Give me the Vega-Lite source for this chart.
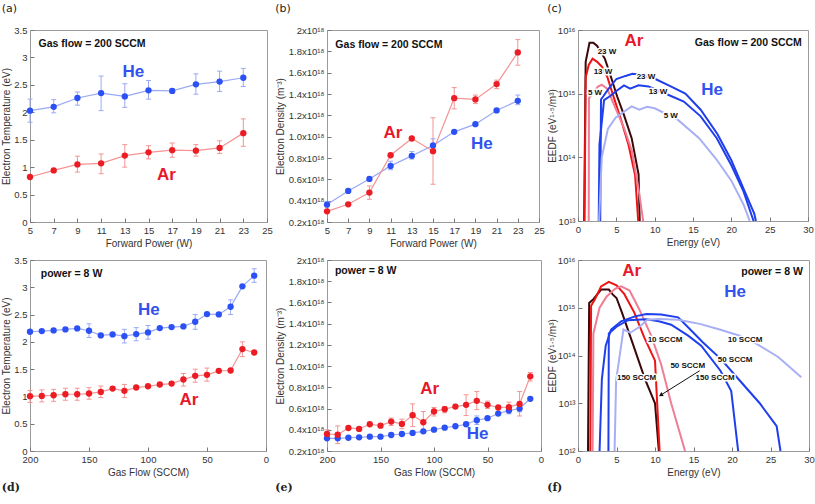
{
  "$schema": "https://vega.github.io/schema/vega-lite/v6.json",
  "background": "white",
  "padding": {"left": 1, "top": 2, "right": 0, "bottom": 2},
  "datasets": {
    "a": [
      {"power": 5, "gas": "He", "te": 2.03, "lo": 1.82, "hi": 2.24},
      {"power": 7, "gas": "He", "te": 2.10, "lo": 1.99, "hi": 2.23},
      {"power": 9, "gas": "He", "te": 2.26, "lo": 2.13, "hi": 2.37},
      {"power": 11, "gas": "He", "te": 2.35, "lo": 2.03, "hi": 2.66},
      {"power": 13, "gas": "He", "te": 2.29, "lo": 2.09, "hi": 2.52},
      {"power": 15, "gas": "He", "te": 2.40, "lo": 2.24, "hi": 2.58},
      {"power": 17, "gas": "He", "te": 2.39, "lo": 2.35, "hi": 2.43},
      {"power": 19, "gas": "He", "te": 2.51, "lo": 2.33, "hi": 2.70},
      {"power": 21, "gas": "He", "te": 2.56, "lo": 2.38, "hi": 2.75},
      {"power": 23, "gas": "He", "te": 2.63, "lo": 2.47, "hi": 2.80},
      {"power": 5, "gas": "Ar", "te": 0.82},
      {"power": 7, "gas": "Ar", "te": 0.94},
      {"power": 9, "gas": "Ar", "te": 1.05, "lo": 0.91, "hi": 1.20},
      {"power": 11, "gas": "Ar", "te": 1.07, "lo": 0.88, "hi": 1.24},
      {"power": 13, "gas": "Ar", "te": 1.21, "lo": 1.00, "hi": 1.41},
      {"power": 15, "gas": "Ar", "te": 1.27, "lo": 1.15, "hi": 1.39},
      {"power": 17, "gas": "Ar", "te": 1.31, "lo": 1.18, "hi": 1.44},
      {"power": 19, "gas": "Ar", "te": 1.30, "lo": 1.20, "hi": 1.41},
      {"power": 21, "gas": "Ar", "te": 1.35, "lo": 1.25, "hi": 1.48},
      {"power": 23, "gas": "Ar", "te": 1.62, "lo": 1.38, "hi": 1.88}
    ],
    "b": [
      {"power": 5, "gas": "He", "ne": 3.63e17, "lo": 3.4e17, "hi": 3.9e17},
      {"power": 7, "gas": "He", "ne": 4.91e17},
      {"power": 9, "gas": "He", "ne": 6.04e17},
      {"power": 11, "gas": "He", "ne": 7.26e17, "lo": 6.9e17, "hi": 7.7e17},
      {"power": 13, "gas": "He", "ne": 8.20e17, "lo": 7.9e17, "hi": 8.6e17},
      {"power": 15, "gas": "He", "ne": 9.17e17, "lo": 8.8e17, "hi": 9.8e17},
      {"power": 17, "gas": "He", "ne": 1.045e18},
      {"power": 19, "gas": "He", "ne": 1.117e18},
      {"power": 21, "gas": "He", "ne": 1.246e18},
      {"power": 23, "gas": "He", "ne": 1.336e18, "lo": 1.30e18, "hi": 1.39e18},
      {"power": 5, "gas": "Ar", "ne": 3.00e17},
      {"power": 7, "gas": "Ar", "ne": 3.66e17},
      {"power": 9, "gas": "Ar", "ne": 4.76e17, "lo": 4.13e17, "hi": 5.38e17},
      {"power": 11, "gas": "Ar", "ne": 8.26e17},
      {"power": 13, "gas": "Ar", "ne": 9.83e17},
      {"power": 15, "gas": "Ar", "ne": 8.64e17, "lo": 5.54e17, "hi": 1.177e18},
      {"power": 17, "gas": "Ar", "ne": 1.361e18, "lo": 1.26e18, "hi": 1.46e18},
      {"power": 19, "gas": "Ar", "ne": 1.349e18, "lo": 1.31e18, "hi": 1.39e18},
      {"power": 21, "gas": "Ar", "ne": 1.493e18, "lo": 1.45e18, "hi": 1.53e18},
      {"power": 23, "gas": "Ar", "ne": 1.79e18, "lo": 1.67e18, "hi": 1.91e18}
    ],
    "c": [
      {"series": "Ar 23 W", "energy": 0.8, "eedf": 1e13},
      {"series": "Ar 23 W", "energy": 1.0, "eedf": 3.16e15},
      {"series": "Ar 23 W", "energy": 1.5, "eedf": 6.31e15},
      {"series": "Ar 23 W", "energy": 2.0, "eedf": 6.31e15},
      {"series": "Ar 23 W", "energy": 2.5, "eedf": 5.62e15},
      {"series": "Ar 23 W", "energy": 3.0, "eedf": 4.47e15},
      {"series": "Ar 23 W", "energy": 3.5, "eedf": 3.55e15},
      {"series": "Ar 23 W", "energy": 4.2, "eedf": 2.0e15},
      {"series": "Ar 23 W", "energy": 5.1, "eedf": 9.1e14},
      {"series": "Ar 23 W", "energy": 6.0, "eedf": 4.6e14},
      {"series": "Ar 23 W", "energy": 7.0, "eedf": 2.0e14},
      {"series": "Ar 23 W", "energy": 7.9, "eedf": 5.4e13},
      {"series": "Ar 23 W", "energy": 8.05, "eedf": 1e13},
      {"series": "Ar 13 W", "energy": 0.85, "eedf": 1e13},
      {"series": "Ar 13 W", "energy": 1.0, "eedf": 1.8e15},
      {"series": "Ar 13 W", "energy": 1.4, "eedf": 2.82e15},
      {"series": "Ar 13 W", "energy": 1.9, "eedf": 3.55e15},
      {"series": "Ar 13 W", "energy": 2.5, "eedf": 3.16e15},
      {"series": "Ar 13 W", "energy": 3.15, "eedf": 2.63e15},
      {"series": "Ar 13 W", "energy": 3.8, "eedf": 1.86e15},
      {"series": "Ar 13 W", "energy": 4.7, "eedf": 8.5e14},
      {"series": "Ar 13 W", "energy": 5.7, "eedf": 3.6e14},
      {"series": "Ar 13 W", "energy": 6.6, "eedf": 1.55e14},
      {"series": "Ar 13 W", "energy": 7.45, "eedf": 5.2e13},
      {"series": "Ar 13 W", "energy": 7.85, "eedf": 1e13},
      {"series": "Ar 5 W", "energy": 1.4, "eedf": 1e13},
      {"series": "Ar 5 W", "energy": 1.43, "eedf": 8.5e14},
      {"series": "Ar 5 W", "energy": 2.6, "eedf": 1.29e15},
      {"series": "Ar 5 W", "energy": 3.1, "eedf": 1.38e15},
      {"series": "Ar 5 W", "energy": 3.8, "eedf": 1.2e15},
      {"series": "Ar 5 W", "energy": 4.9, "eedf": 5.9e14},
      {"series": "Ar 5 W", "energy": 6.0, "eedf": 2.9e14},
      {"series": "Ar 5 W", "energy": 7.05, "eedf": 1.23e14},
      {"series": "Ar 5 W", "energy": 7.9, "eedf": 3.2e13},
      {"series": "Ar 5 W", "energy": 8.5, "eedf": 1e13},
      {"series": "He 23 W", "energy": 2.9, "eedf": 1e13},
      {"series": "He 23 W", "energy": 3.0, "eedf": 8.1e14},
      {"series": "He 23 W", "energy": 4.0, "eedf": 1.2e15},
      {"series": "He 23 W", "energy": 5.0, "eedf": 1.7e15},
      {"series": "He 23 W", "energy": 6.2, "eedf": 1.9e15},
      {"series": "He 23 W", "energy": 7.1, "eedf": 2.05e15},
      {"series": "He 23 W", "energy": 8.0, "eedf": 2.0e15},
      {"series": "He 23 W", "energy": 10.1, "eedf": 1.7e15},
      {"series": "He 23 W", "energy": 12.1, "eedf": 1.3e15},
      {"series": "He 23 W", "energy": 14.0, "eedf": 1.0e15},
      {"series": "He 23 W", "energy": 16.0, "eedf": 5.6e14},
      {"series": "He 23 W", "energy": 18.2, "eedf": 2.3e14},
      {"series": "He 23 W", "energy": 20.0, "eedf": 9.0e13},
      {"series": "He 23 W", "energy": 21.7, "eedf": 3.0e13},
      {"series": "He 23 W", "energy": 23.0, "eedf": 1.3e13},
      {"series": "He 23 W", "energy": 23.2, "eedf": 1e13},
      {"series": "He 13 W", "energy": 2.7, "eedf": 1e13},
      {"series": "He 13 W", "energy": 2.8, "eedf": 1.6e14},
      {"series": "He 13 W", "energy": 3.4, "eedf": 7.9e14},
      {"series": "He 13 W", "energy": 4.2, "eedf": 9.2e14},
      {"series": "He 13 W", "energy": 5.0, "eedf": 1.1e15},
      {"series": "He 13 W", "energy": 6.0, "eedf": 1.35e15},
      {"series": "He 13 W", "energy": 6.8, "eedf": 1.2e15},
      {"series": "He 13 W", "energy": 7.9, "eedf": 1.35e15},
      {"series": "He 13 W", "energy": 9.2, "eedf": 1.3e15},
      {"series": "He 13 W", "energy": 11.6, "eedf": 9.8e14},
      {"series": "He 13 W", "energy": 13.8, "eedf": 7.5e14},
      {"series": "He 13 W", "energy": 16.0, "eedf": 4.4e14},
      {"series": "He 13 W", "energy": 18.1, "eedf": 2.0e14},
      {"series": "He 13 W", "energy": 20.0, "eedf": 7.5e13},
      {"series": "He 13 W", "energy": 21.6, "eedf": 2.9e13},
      {"series": "He 13 W", "energy": 22.9, "eedf": 1e13},
      {"series": "He 5 W", "energy": 2.75, "eedf": 1e13},
      {"series": "He 5 W", "energy": 3.1, "eedf": 1.0e14},
      {"series": "He 5 W", "energy": 3.9, "eedf": 2.8e14},
      {"series": "He 5 W", "energy": 4.9, "eedf": 4.2e14},
      {"series": "He 5 W", "energy": 6.0, "eedf": 5.2e14},
      {"series": "He 5 W", "energy": 7.0, "eedf": 6.3e14},
      {"series": "He 5 W", "energy": 8.0, "eedf": 5.6e14},
      {"series": "He 5 W", "energy": 9.0, "eedf": 6.2e14},
      {"series": "He 5 W", "energy": 10.0, "eedf": 5.9e14},
      {"series": "He 5 W", "energy": 13.0, "eedf": 3.9e14},
      {"series": "He 5 W", "energy": 15.8, "eedf": 2.0e14},
      {"series": "He 5 W", "energy": 18.0, "eedf": 9.5e13},
      {"series": "He 5 W", "energy": 20.0, "eedf": 4.3e13},
      {"series": "He 5 W", "energy": 21.6, "eedf": 1.8e13},
      {"series": "He 5 W", "energy": 22.4, "eedf": 1e13}
    ],
    "d": [
      {"flow": 200, "gas": "He", "te": 2.185},
      {"flow": 190, "gas": "He", "te": 2.197},
      {"flow": 180, "gas": "He", "te": 2.209},
      {"flow": 170, "gas": "He", "te": 2.228},
      {"flow": 160, "gas": "He", "te": 2.246},
      {"flow": 150, "gas": "He", "te": 2.203, "lo": 2.08, "hi": 2.33},
      {"flow": 140, "gas": "He", "te": 2.118},
      {"flow": 130, "gas": "He", "te": 2.136},
      {"flow": 120, "gas": "He", "te": 2.105, "lo": 1.98, "hi": 2.23},
      {"flow": 110, "gas": "He", "te": 2.142, "lo": 2.02, "hi": 2.26},
      {"flow": 100, "gas": "He", "te": 2.173, "lo": 2.05, "hi": 2.30},
      {"flow": 90, "gas": "He", "te": 2.252},
      {"flow": 80, "gas": "He", "te": 2.271},
      {"flow": 70, "gas": "He", "te": 2.283},
      {"flow": 60, "gas": "He", "te": 2.368, "lo": 2.23, "hi": 2.50},
      {"flow": 50, "gas": "He", "te": 2.509},
      {"flow": 40, "gas": "He", "te": 2.503},
      {"flow": 30, "gas": "He", "te": 2.644, "lo": 2.50, "hi": 2.77},
      {"flow": 20, "gas": "He", "te": 3.017},
      {"flow": 10, "gas": "He", "te": 3.213, "lo": 3.09, "hi": 3.34},
      {"flow": 200, "gas": "Ar", "te": 1.004, "lo": 0.89, "hi": 1.11},
      {"flow": 190, "gas": "Ar", "te": 1.010, "lo": 0.90, "hi": 1.12},
      {"flow": 180, "gas": "Ar", "te": 1.022, "lo": 0.91, "hi": 1.13},
      {"flow": 170, "gas": "Ar", "te": 1.040, "lo": 0.93, "hi": 1.15},
      {"flow": 160, "gas": "Ar", "te": 1.040, "lo": 0.93, "hi": 1.15},
      {"flow": 150, "gas": "Ar", "te": 1.053, "lo": 0.95, "hi": 1.16},
      {"flow": 140, "gas": "Ar", "te": 1.083, "lo": 0.98, "hi": 1.19},
      {"flow": 130, "gas": "Ar", "te": 1.144},
      {"flow": 120, "gas": "Ar", "te": 1.102, "lo": 0.98, "hi": 1.22},
      {"flow": 110, "gas": "Ar", "te": 1.163},
      {"flow": 100, "gas": "Ar", "te": 1.187},
      {"flow": 90, "gas": "Ar", "te": 1.218},
      {"flow": 80, "gas": "Ar", "te": 1.236},
      {"flow": 70, "gas": "Ar", "te": 1.310, "lo": 1.19, "hi": 1.42},
      {"flow": 60, "gas": "Ar", "te": 1.377, "lo": 1.26, "hi": 1.50},
      {"flow": 50, "gas": "Ar", "te": 1.395, "lo": 1.28, "hi": 1.52},
      {"flow": 40, "gas": "Ar", "te": 1.469},
      {"flow": 30, "gas": "Ar", "te": 1.475},
      {"flow": 20, "gas": "Ar", "te": 1.867, "lo": 1.73, "hi": 2.0},
      {"flow": 10, "gas": "Ar", "te": 1.805}
    ],
    "e": [
      {"flow": 200, "gas": "He", "ne": 3.19e17},
      {"flow": 190, "gas": "He", "ne": 3.19e17},
      {"flow": 180, "gas": "He", "ne": 3.25e17},
      {"flow": 170, "gas": "He", "ne": 3.29e17},
      {"flow": 160, "gas": "He", "ne": 3.35e17},
      {"flow": 150, "gas": "He", "ne": 3.35e17},
      {"flow": 140, "gas": "He", "ne": 3.51e17},
      {"flow": 130, "gas": "He", "ne": 3.60e17},
      {"flow": 120, "gas": "He", "ne": 3.70e17},
      {"flow": 110, "gas": "He", "ne": 3.85e17},
      {"flow": 100, "gas": "He", "ne": 4.01e17},
      {"flow": 90, "gas": "He", "ne": 4.20e17},
      {"flow": 80, "gas": "He", "ne": 4.33e17},
      {"flow": 70, "gas": "He", "ne": 4.52e17},
      {"flow": 60, "gas": "He", "ne": 4.90e17, "lo": 4.5e17, "hi": 5.3e17},
      {"flow": 50, "gas": "He", "ne": 5.09e17},
      {"flow": 40, "gas": "He", "ne": 5.53e17},
      {"flow": 30, "gas": "He", "ne": 5.81e17, "lo": 5.5e17, "hi": 6.1e17},
      {"flow": 20, "gas": "He", "ne": 6.00e17, "lo": 5.7e17, "hi": 6.3e17},
      {"flow": 10, "gas": "He", "ne": 6.92e17},
      {"flow": 200, "gas": "Ar", "ne": 3.60e17, "lo": 3.3e17, "hi": 4.0e17},
      {"flow": 190, "gas": "Ar", "ne": 3.54e17, "lo": 2.7e17, "hi": 4.36e17},
      {"flow": 180, "gas": "Ar", "ne": 4.17e17},
      {"flow": 170, "gas": "Ar", "ne": 4.08e17},
      {"flow": 160, "gas": "Ar", "ne": 4.52e17},
      {"flow": 150, "gas": "Ar", "ne": 4.39e17},
      {"flow": 140, "gas": "Ar", "ne": 4.77e17, "lo": 4.4e17, "hi": 5.1e17},
      {"flow": 130, "gas": "Ar", "ne": 4.55e17, "lo": 4.1e17, "hi": 5.0e17},
      {"flow": 120, "gas": "Ar", "ne": 5.37e17, "lo": 4.3e17, "hi": 6.44e17},
      {"flow": 110, "gas": "Ar", "ne": 4.71e17, "lo": 3.67e17, "hi": 5.72e17},
      {"flow": 100, "gas": "Ar", "ne": 5.72e17, "lo": 5.3e17, "hi": 6.1e17},
      {"flow": 90, "gas": "Ar", "ne": 5.94e17, "lo": 5.6e17, "hi": 6.2e17},
      {"flow": 80, "gas": "Ar", "ne": 6.19e17, "lo": 6.0e17, "hi": 6.4e17},
      {"flow": 70, "gas": "Ar", "ne": 6.35e17, "lo": 5.34e17, "hi": 7.3e17},
      {"flow": 60, "gas": "Ar", "ne": 6.73e17, "lo": 5.9e17, "hi": 7.6e17},
      {"flow": 50, "gas": "Ar", "ne": 6.35e17, "lo": 6.0e17, "hi": 6.7e17},
      {"flow": 40, "gas": "Ar", "ne": 6.10e17},
      {"flow": 30, "gas": "Ar", "ne": 6.13e17, "lo": 5.7e17, "hi": 6.6e17},
      {"flow": 20, "gas": "Ar", "ne": 6.44e17, "lo": 5.3e17, "hi": 7.6e17},
      {"flow": 10, "gas": "Ar", "ne": 9.04e17, "lo": 8.6e17, "hi": 9.4e17}
    ],
    "f": [
      {"series": "Ar 150 SCCM", "energy": 1.3, "eedf": 1e12},
      {"series": "Ar 150 SCCM", "energy": 1.45, "eedf": 1.26e15},
      {"series": "Ar 150 SCCM", "energy": 2.0, "eedf": 1.51e15},
      {"series": "Ar 150 SCCM", "energy": 3.0, "eedf": 2.4e15},
      {"series": "Ar 150 SCCM", "energy": 4.0, "eedf": 2.4e15},
      {"series": "Ar 150 SCCM", "energy": 4.5, "eedf": 1.9e15},
      {"series": "Ar 150 SCCM", "energy": 5.0, "eedf": 1.6e15},
      {"series": "Ar 150 SCCM", "energy": 5.7, "eedf": 8.0e14},
      {"series": "Ar 150 SCCM", "energy": 7.0, "eedf": 2.0e14},
      {"series": "Ar 150 SCCM", "energy": 8.7, "eedf": 3.2e13},
      {"series": "Ar 150 SCCM", "energy": 10.0, "eedf": 1.0e13},
      {"series": "Ar 150 SCCM", "energy": 10.5, "eedf": 1e12},
      {"series": "Ar 50 SCCM", "energy": 1.6, "eedf": 1e12},
      {"series": "Ar 50 SCCM", "energy": 1.7, "eedf": 1.1e15},
      {"series": "Ar 50 SCCM", "energy": 2.2, "eedf": 1.51e15},
      {"series": "Ar 50 SCCM", "energy": 3.0, "eedf": 2.8e15},
      {"series": "Ar 50 SCCM", "energy": 4.0, "eedf": 3.5e15},
      {"series": "Ar 50 SCCM", "energy": 5.0, "eedf": 2.95e15},
      {"series": "Ar 50 SCCM", "energy": 6.0, "eedf": 1.95e15},
      {"series": "Ar 50 SCCM", "energy": 7.3, "eedf": 8.0e14},
      {"series": "Ar 50 SCCM", "energy": 8.6, "eedf": 2.4e14},
      {"series": "Ar 50 SCCM", "energy": 10.0, "eedf": 7.8e13},
      {"series": "Ar 50 SCCM", "energy": 10.6, "eedf": 1e12},
      {"series": "Ar 10 SCCM", "energy": 1.9, "eedf": 1e12},
      {"series": "Ar 10 SCCM", "energy": 2.0, "eedf": 2.9e14},
      {"series": "Ar 10 SCCM", "energy": 2.8, "eedf": 1.0e15},
      {"series": "Ar 10 SCCM", "energy": 3.7, "eedf": 1.7e15},
      {"series": "Ar 10 SCCM", "energy": 4.8, "eedf": 2.5e15},
      {"series": "Ar 10 SCCM", "energy": 5.6, "eedf": 2.8e15},
      {"series": "Ar 10 SCCM", "energy": 6.7, "eedf": 2.3e15},
      {"series": "Ar 10 SCCM", "energy": 8.0, "eedf": 9.0e14},
      {"series": "Ar 10 SCCM", "energy": 9.5, "eedf": 2.6e14},
      {"series": "Ar 10 SCCM", "energy": 10.8, "eedf": 6.5e13},
      {"series": "Ar 10 SCCM", "energy": 12.1, "eedf": 1.0e13},
      {"series": "Ar 10 SCCM", "energy": 13.9, "eedf": 1e12},
      {"series": "He 150 SCCM", "energy": 3.95, "eedf": 1e12},
      {"series": "He 150 SCCM", "energy": 4.0, "eedf": 2.9e14},
      {"series": "He 150 SCCM", "energy": 5.0, "eedf": 4.0e14},
      {"series": "He 150 SCCM", "energy": 6.5, "eedf": 5.5e14},
      {"series": "He 150 SCCM", "energy": 8.9, "eedf": 5.75e14},
      {"series": "He 150 SCCM", "energy": 10.5, "eedf": 5.2e14},
      {"series": "He 150 SCCM", "energy": 12.1, "eedf": 4.4e14},
      {"series": "He 150 SCCM", "energy": 14.3, "eedf": 2.6e14},
      {"series": "He 150 SCCM", "energy": 16.0, "eedf": 1.6e14},
      {"series": "He 150 SCCM", "energy": 18.5, "eedf": 4.8e13},
      {"series": "He 150 SCCM", "energy": 19.9, "eedf": 1.8e13},
      {"series": "He 150 SCCM", "energy": 20.8, "eedf": 1e12},
      {"series": "He 50 SCCM", "energy": 2.8, "eedf": 1e12},
      {"series": "He 50 SCCM", "energy": 3.1, "eedf": 3.2e13},
      {"series": "He 50 SCCM", "energy": 3.6, "eedf": 1.6e14},
      {"series": "He 50 SCCM", "energy": 4.3, "eedf": 3.5e14},
      {"series": "He 50 SCCM", "energy": 5.6, "eedf": 5.2e14},
      {"series": "He 50 SCCM", "energy": 7.4, "eedf": 6.6e14},
      {"series": "He 50 SCCM", "energy": 8.9, "eedf": 7.4e14},
      {"series": "He 50 SCCM", "energy": 10.8, "eedf": 7.2e14},
      {"series": "He 50 SCCM", "energy": 13.0, "eedf": 6.3e14},
      {"series": "He 50 SCCM", "energy": 14.1, "eedf": 4.2e14},
      {"series": "He 50 SCCM", "energy": 16.2, "eedf": 1.9e14},
      {"series": "He 50 SCCM", "energy": 18.6, "eedf": 8.3e13},
      {"series": "He 50 SCCM", "energy": 21.0, "eedf": 3.0e13},
      {"series": "He 50 SCCM", "energy": 23.6, "eedf": 1.0e13},
      {"series": "He 50 SCCM", "energy": 25.8, "eedf": 3.3e12},
      {"series": "He 50 SCCM", "energy": 26.3, "eedf": 1e12},
      {"series": "He 10 SCCM", "energy": 4.75, "eedf": 1e12},
      {"series": "He 10 SCCM", "energy": 4.95, "eedf": 3.0e13},
      {"series": "He 10 SCCM", "energy": 5.9, "eedf": 3.5e14},
      {"series": "He 10 SCCM", "energy": 6.8, "eedf": 3.0e14},
      {"series": "He 10 SCCM", "energy": 8.0, "eedf": 4.0e14},
      {"series": "He 10 SCCM", "energy": 9.0, "eedf": 5.6e14},
      {"series": "He 10 SCCM", "energy": 10.5, "eedf": 5.8e14},
      {"series": "He 10 SCCM", "energy": 13.0, "eedf": 5.6e14},
      {"series": "He 10 SCCM", "energy": 15.8, "eedf": 4.6e14},
      {"series": "He 10 SCCM", "energy": 18.4, "eedf": 3.5e14},
      {"series": "He 10 SCCM", "energy": 21.0, "eedf": 2.6e14},
      {"series": "He 10 SCCM", "energy": 23.2, "eedf": 1.75e14},
      {"series": "He 10 SCCM", "energy": 26.0, "eedf": 9.3e13},
      {"series": "He 10 SCCM", "energy": 29.0, "eedf": 3.5e13}
    ],
    "labels": [
      {"panel": "a", "kind": "note", "text": "Gas flow = 200 SCCM", "x": 5.72, "y": 3.25},
      {"panel": "a", "kind": "gas", "text": "He", "x": 13.73, "y": 2.74},
      {"panel": "a", "kind": "gas", "text": "Ar", "x": 16.52, "y": 0.85},
      {"panel": "b", "kind": "note", "text": "Gas flow = 200 SCCM", "x": 5.79, "y": 1.864e18},
      {"panel": "b", "kind": "gas", "text": "Ar", "x": 11.23, "y": 1.036e18},
      {"panel": "b", "kind": "gas", "text": "He", "x": 19.6, "y": 9.33e17},
      {"panel": "c", "kind": "note", "text": "Gas flow = 200 SCCM", "x": 29.2, "y": 6.3e15},
      {"panel": "c", "kind": "gas", "text": "Ar", "x": 7.3, "y": 6.6e15},
      {"panel": "c", "kind": "gas", "text": "He", "x": 17.5, "y": 1.15e15},
      {"panel": "c", "kind": "curve", "text": "23 W", "x": 3.78, "y": 4.5e15},
      {"panel": "c", "kind": "curve", "text": "13 W", "x": 3.26, "y": 2.2e15},
      {"panel": "c", "kind": "curve", "text": "5 W", "x": 2.22, "y": 1.02e15},
      {"panel": "c", "kind": "curve", "text": "23 W", "x": 8.87, "y": 1.8e15},
      {"panel": "c", "kind": "curve", "text": "13 W", "x": 10.43, "y": 1.07e15},
      {"panel": "c", "kind": "curve", "text": "5 W", "x": 12.1, "y": 4.5e14},
      {"panel": "d", "kind": "note", "text": "power = 8 W", "x": 190.9, "y": 3.24},
      {"panel": "d", "kind": "gas", "text": "He", "x": 99.2, "y": 2.58},
      {"panel": "d", "kind": "gas", "text": "Ar", "x": 65.3, "y": 0.93},
      {"panel": "e", "kind": "note", "text": "power = 8 W", "x": 192.6, "y": 1.894e18},
      {"panel": "e", "kind": "gas", "text": "Ar", "x": 104, "y": 7.89e17},
      {"panel": "e", "kind": "gas", "text": "He", "x": 59.3, "y": 3.56e17},
      {"panel": "f", "kind": "note", "text": "power = 8 W", "x": 29.2, "y": 5.6e15},
      {"panel": "f", "kind": "gas", "text": "Ar", "x": 6.98, "y": 5.9e15},
      {"panel": "f", "kind": "gas", "text": "He", "x": 20.4, "y": 2.15e15},
      {"panel": "f", "kind": "curve", "text": "10 SCCM", "x": 11.3, "y": 2.15e14},
      {"panel": "f", "kind": "curve", "text": "50 SCCM", "x": 14.25, "y": 6.0e13},
      {"panel": "f", "kind": "curve", "text": "150 SCCM", "x": 7.6, "y": 3.4e13},
      {"panel": "f", "kind": "curve", "text": "10 SCCM", "x": 21.7, "y": 2.15e14},
      {"panel": "f", "kind": "curve", "text": "50 SCCM", "x": 20.4, "y": 8.1e13},
      {"panel": "f", "kind": "curve", "text": "150 SCCM", "x": 17.8, "y": 3.4e13}
    ],
    "arrow": [
      {"x": 15.8, "y": 4.8e13, "x2": 10.75, "y2": 1.48e13}
    ]
  },
  "concat": [
    {
      "width": 237, "height": 192,
      "title": {"text": "(a)", "anchor": "start", "frame": "bounds", "offset": 11, "fontSize": 11, "fontWeight": "normal", "font": "DejaVu Sans", "color": "#222"},
      "resolve": {"scale": {"color": "independent"}},
      "layer": [
        {"data": {"name": "a"}, "mark": {"type": "line", "strokeWidth": 1.2},
          "encoding": {
            "x": {"field": "power", "type": "quantitative", "scale": {"domain": [5, 25], "padding": 0, "nice": false, "zero": false}, "axis": {"values": [5, 7, 9, 11, 13, 15, 17, 19, 21, 23, 25], "tickCount": 30, "format": "d", "title": "Forward Power (W)", "labelOverlap": false}},
            "y": {"field": "te", "type": "quantitative", "scale": {"domain": [0, 3.5], "padding": 0, "nice": false}, "axis": {"values": [0, 0.5, 1, 1.5, 2, 2.5, 3, 3.5], "tickCount": 30, "format": ".1~f", "title": "Electron Temperature (eV)", "titlePadding": 2, "labelOverlap": false}},
            "color": {"field": "gas", "type": "nominal", "scale": {"domain": ["He", "Ar"], "range": ["#9aa9f6", "#f49494"]}, "legend": null}}},
        {"data": {"name": "a"}, "transform": [{"filter": "isValid(datum.lo)"}], "mark": {"type": "rule", "strokeWidth": 1},
          "encoding": {
            "x": {"field": "power", "type": "quantitative", "title": "Forward Power (W)"},
            "y": {"field": "lo", "type": "quantitative", "title": "Electron Temperature (eV)"}, "y2": {"field": "hi"},
            "color": {"field": "gas", "type": "nominal", "scale": {"domain": ["He", "Ar"], "range": ["#9aa9f6", "#f49494"]}, "legend": null}}},
        {"data": {"name": "a"}, "transform": [{"filter": "isValid(datum.lo)"}, {"fold": ["lo", "hi"], "as": ["end", "bound"]}], "mark": {"type": "point", "shape": "stroke", "filled": false, "size": 25, "strokeWidth": 1, "opacity": 1},
          "encoding": {
            "x": {"field": "power", "type": "quantitative", "title": "Forward Power (W)"},
            "y": {"field": "bound", "type": "quantitative", "title": "Electron Temperature (eV)"},
            "color": {"field": "gas", "type": "nominal", "scale": {"domain": ["He", "Ar"], "range": ["#9aa9f6", "#f49494"]}, "legend": null}}},
        {"data": {"name": "a"}, "mark": {"type": "point", "filled": true, "size": 40, "opacity": 1},
          "encoding": {
            "x": {"field": "power", "type": "quantitative", "title": "Forward Power (W)"},
            "y": {"field": "te", "type": "quantitative", "title": "Electron Temperature (eV)"},
            "color": {"field": "gas", "type": "nominal", "scale": {"domain": ["He", "Ar"], "range": ["#2b50f3", "#ec1c24"]}, "legend": null}}},
        {"data": {"name": "labels"}, "transform": [{"filter": "datum.panel == 'a' && datum.kind == 'gas'"}], "mark": {"type": "text", "fontSize": 17, "fontWeight": "bold"},
          "encoding": {
            "x": {"field": "x", "type": "quantitative", "title": "Forward Power (W)"}, "y": {"field": "y", "type": "quantitative", "title": "Electron Temperature (eV)"}, "text": {"field": "text"},
            "color": {"field": "text", "type": "nominal", "scale": {"domain": ["He", "Ar"], "range": ["#3152ee", "#e8182a"]}, "legend": null}}},
        {"data": {"name": "labels"}, "transform": [{"filter": "datum.panel == 'a' && datum.kind == 'note'"}], "mark": {"type": "text", "fontSize": 10.5, "fontWeight": "bold", "align": "left", "color": "#111"},
          "encoding": {"x": {"field": "x", "type": "quantitative", "title": "Forward Power (W)"}, "y": {"field": "y", "type": "quantitative", "title": "Electron Temperature (eV)"}, "text": {"field": "text"}}}
      ]
    },
    {
      "width": 212, "height": 192,
      "title": {"text": "(b)", "anchor": "start", "frame": "bounds", "offset": 11, "fontSize": 11, "fontWeight": "normal", "font": "DejaVu Sans", "color": "#222"},
      "resolve": {"scale": {"color": "independent"}},
      "layer": [
        {"data": {"name": "b"}, "mark": {"type": "line", "strokeWidth": 1.2},
          "encoding": {
            "x": {"field": "power", "type": "quantitative", "scale": {"domain": [5, 25], "padding": 0, "nice": false, "zero": false}, "axis": {"values": [5, 7, 9, 11, 13, 15, 17, 19, 21, 23, 25], "tickCount": 30, "format": "d", "title": "Forward Power (W)", "labelOverlap": false}},
            "y": {"field": "ne", "type": "quantitative", "scale": {"domain": [2e17, 2e18], "padding": 0, "nice": false, "zero": false}, "axis": {"values": [2e17, 4e17, 6e17, 8e17, 1e18, 1.2e18, 1.4e18, 1.6e18, 1.8e18, 2e18], "tickCount": 30, "title": "Electron Density (m⁻³)", "titlePadding": 3, "labelOverlap": false, "labelExpr": "datum.value >= 1.99e18 ? '2x10¹⁸' : format(datum.value / 1e18, '.1f') + 'x10¹⁸'"}},
            "color": {"field": "gas", "type": "nominal", "scale": {"domain": ["He", "Ar"], "range": ["#9aa9f6", "#f49494"]}, "legend": null}}},
        {"data": {"name": "b"}, "transform": [{"filter": "isValid(datum.lo)"}], "mark": {"type": "rule", "strokeWidth": 1},
          "encoding": {
            "x": {"field": "power", "type": "quantitative", "title": "Forward Power (W)"},
            "y": {"field": "lo", "type": "quantitative", "title": "Electron Density (m⁻³)"}, "y2": {"field": "hi"},
            "color": {"field": "gas", "type": "nominal", "scale": {"domain": ["He", "Ar"], "range": ["#9aa9f6", "#f49494"]}, "legend": null}}},
        {"data": {"name": "b"}, "transform": [{"filter": "isValid(datum.lo)"}, {"fold": ["lo", "hi"], "as": ["end", "bound"]}], "mark": {"type": "point", "shape": "stroke", "filled": false, "size": 25, "strokeWidth": 1, "opacity": 1},
          "encoding": {
            "x": {"field": "power", "type": "quantitative", "title": "Forward Power (W)"},
            "y": {"field": "bound", "type": "quantitative", "title": "Electron Density (m⁻³)"},
            "color": {"field": "gas", "type": "nominal", "scale": {"domain": ["He", "Ar"], "range": ["#9aa9f6", "#f49494"]}, "legend": null}}},
        {"data": {"name": "b"}, "mark": {"type": "point", "filled": true, "size": 40, "opacity": 1},
          "encoding": {
            "x": {"field": "power", "type": "quantitative", "title": "Forward Power (W)"},
            "y": {"field": "ne", "type": "quantitative", "title": "Electron Density (m⁻³)"},
            "color": {"field": "gas", "type": "nominal", "scale": {"domain": ["He", "Ar"], "range": ["#2b50f3", "#ec1c24"]}, "legend": null}}},
        {"data": {"name": "labels"}, "transform": [{"filter": "datum.panel == 'b' && datum.kind == 'gas'"}], "mark": {"type": "text", "fontSize": 17, "fontWeight": "bold"},
          "encoding": {
            "x": {"field": "x", "type": "quantitative", "title": "Forward Power (W)"}, "y": {"field": "y", "type": "quantitative", "title": "Electron Density (m⁻³)"}, "text": {"field": "text"},
            "color": {"field": "text", "type": "nominal", "scale": {"domain": ["He", "Ar"], "range": ["#3152ee", "#e8182a"]}, "legend": null}}},
        {"data": {"name": "labels"}, "transform": [{"filter": "datum.panel == 'b' && datum.kind == 'note'"}], "mark": {"type": "text", "fontSize": 10.5, "fontWeight": "bold", "align": "left", "color": "#111"},
          "encoding": {"x": {"field": "x", "type": "quantitative", "title": "Forward Power (W)"}, "y": {"field": "y", "type": "quantitative", "title": "Electron Density (m⁻³)"}, "text": {"field": "text"}}}
      ]
    },
    {
      "width": 230, "height": 191,
      "title": {"text": "(c)", "anchor": "start", "frame": "bounds", "offset": 11, "fontSize": 11, "fontWeight": "normal", "font": "DejaVu Sans", "color": "#222"},
      "resolve": {"scale": {"color": "independent"}},
      "layer": [
        {"data": {"name": "c"}, "mark": {"type": "line", "strokeWidth": 2},
          "encoding": {
            "x": {"field": "energy", "type": "quantitative", "scale": {"domain": [0, 30], "nice": false}, "axis": {"values": [0, 5, 10, 15, 20, 25, 30], "tickCount": 30, "format": "d", "title": "Energy (eV)", "labelOverlap": false}},
            "y": {"field": "eedf", "type": "quantitative", "scale": {"type": "log", "domain": [1e13, 1e16], "nice": false}, "axis": {"values": [1e13, 1e14, 1e15, 1e16], "tickCount": 30, "title": "EEDF (eV¹·⁵/m³)", "titlePadding": 0, "labelOverlap": false, "labelExpr": "datum.value >= 9e15 ? '10¹⁶' : datum.value >= 9e14 ? '10¹⁵' : datum.value >= 9e13 ? '10¹⁴' : '10¹³'"}},
            "color": {"field": "series", "type": "nominal", "scale": {"domain": ["Ar 23 W", "Ar 13 W", "Ar 5 W", "He 23 W", "He 13 W", "He 5 W"], "range": ["#3a0808", "#ee1414", "#f07c95", "#1f3fec", "#1f3fec", "#a8b0f3"]}, "legend": null}}},
        {"data": {"name": "labels"}, "transform": [{"filter": "datum.panel == 'c' && datum.kind == 'curve'"}], "mark": {"type": "text", "fontSize": 8, "fontWeight": "bold", "stroke": "white", "strokeWidth": 3, "strokeJoin": "round", "color": "white"},
          "encoding": {"x": {"field": "x", "type": "quantitative", "title": "Energy (eV)"}, "y": {"field": "y", "type": "quantitative", "title": "EEDF (eV¹·⁵/m³)"}, "text": {"field": "text"}}},
        {"data": {"name": "labels"}, "transform": [{"filter": "datum.panel == 'c' && datum.kind == 'curve'"}], "mark": {"type": "text", "fontSize": 8, "fontWeight": "bold", "color": "#111"},
          "encoding": {"x": {"field": "x", "type": "quantitative", "title": "Energy (eV)"}, "y": {"field": "y", "type": "quantitative", "title": "EEDF (eV¹·⁵/m³)"}, "text": {"field": "text"}}},
        {"data": {"name": "labels"}, "transform": [{"filter": "datum.panel == 'c' && datum.kind == 'gas'"}], "mark": {"type": "text", "fontSize": 17, "fontWeight": "bold"},
          "encoding": {
            "x": {"field": "x", "type": "quantitative", "title": "Energy (eV)"}, "y": {"field": "y", "type": "quantitative", "title": "EEDF (eV¹·⁵/m³)"}, "text": {"field": "text"},
            "color": {"field": "text", "type": "nominal", "scale": {"domain": ["He", "Ar"], "range": ["#3152ee", "#e8182a"]}, "legend": null}}},
        {"data": {"name": "labels"}, "transform": [{"filter": "datum.panel == 'c' && datum.kind == 'note'"}], "mark": {"type": "text", "fontSize": 10.5, "fontWeight": "bold", "align": "right", "color": "#111"},
          "encoding": {"x": {"field": "x", "type": "quantitative", "title": "Energy (eV)"}, "y": {"field": "y", "type": "quantitative", "title": "EEDF (eV¹·⁵/m³)"}, "text": {"field": "text"}}}
      ]
    },
    {
      "width": 236, "height": 191,
      "title": {"text": "(d)", "orient": "bottom", "anchor": "start", "frame": "bounds", "offset": 4, "fontSize": 11, "fontWeight": "bold", "font": "DejaVu Serif", "color": "#222"},
      "resolve": {"scale": {"color": "independent"}},
      "layer": [
        {"data": {"name": "d"}, "mark": {"type": "line", "strokeWidth": 1.2},
          "encoding": {
            "x": {"field": "flow", "type": "quantitative", "scale": {"domain": [0, 200], "reverse": true, "padding": 0, "nice": false}, "axis": {"values": [0, 50, 100, 150, 200], "tickCount": 30, "format": "d", "title": "Gas Flow (SCCM)", "labelOverlap": false}},
            "y": {"field": "te", "type": "quantitative", "scale": {"domain": [0, 3.5], "padding": 0, "nice": false}, "axis": {"values": [0, 0.5, 1, 1.5, 2, 2.5, 3, 3.5], "tickCount": 30, "format": ".1~f", "title": "Electron Temperature (eV)", "titlePadding": 2, "labelOverlap": false}},
            "color": {"field": "gas", "type": "nominal", "scale": {"domain": ["He", "Ar"], "range": ["#9aa9f6", "#f49494"]}, "legend": null}}},
        {"data": {"name": "d"}, "transform": [{"filter": "isValid(datum.lo)"}], "mark": {"type": "rule", "strokeWidth": 1},
          "encoding": {
            "x": {"field": "flow", "type": "quantitative", "title": "Gas Flow (SCCM)"},
            "y": {"field": "lo", "type": "quantitative", "title": "Electron Temperature (eV)"}, "y2": {"field": "hi"},
            "color": {"field": "gas", "type": "nominal", "scale": {"domain": ["He", "Ar"], "range": ["#9aa9f6", "#f49494"]}, "legend": null}}},
        {"data": {"name": "d"}, "transform": [{"filter": "isValid(datum.lo)"}, {"fold": ["lo", "hi"], "as": ["end", "bound"]}], "mark": {"type": "point", "shape": "stroke", "filled": false, "size": 25, "strokeWidth": 1, "opacity": 1},
          "encoding": {
            "x": {"field": "flow", "type": "quantitative", "title": "Gas Flow (SCCM)"},
            "y": {"field": "bound", "type": "quantitative", "title": "Electron Temperature (eV)"},
            "color": {"field": "gas", "type": "nominal", "scale": {"domain": ["He", "Ar"], "range": ["#9aa9f6", "#f49494"]}, "legend": null}}},
        {"data": {"name": "d"}, "mark": {"type": "point", "filled": true, "size": 40, "opacity": 1},
          "encoding": {
            "x": {"field": "flow", "type": "quantitative", "title": "Gas Flow (SCCM)"},
            "y": {"field": "te", "type": "quantitative", "title": "Electron Temperature (eV)"},
            "color": {"field": "gas", "type": "nominal", "scale": {"domain": ["He", "Ar"], "range": ["#2b50f3", "#ec1c24"]}, "legend": null}}},
        {"data": {"name": "labels"}, "transform": [{"filter": "datum.panel == 'd' && datum.kind == 'gas'"}], "mark": {"type": "text", "fontSize": 17, "fontWeight": "bold"},
          "encoding": {
            "x": {"field": "x", "type": "quantitative", "title": "Gas Flow (SCCM)"}, "y": {"field": "y", "type": "quantitative", "title": "Electron Temperature (eV)"}, "text": {"field": "text"},
            "color": {"field": "text", "type": "nominal", "scale": {"domain": ["He", "Ar"], "range": ["#3152ee", "#e8182a"]}, "legend": null}}},
        {"data": {"name": "labels"}, "transform": [{"filter": "datum.panel == 'd' && datum.kind == 'note'"}], "mark": {"type": "text", "fontSize": 10.5, "fontWeight": "bold", "align": "left", "color": "#111"},
          "encoding": {"x": {"field": "x", "type": "quantitative", "title": "Gas Flow (SCCM)"}, "y": {"field": "y", "type": "quantitative", "title": "Electron Temperature (eV)"}, "text": {"field": "text"}}}
      ]
    },
    {
      "width": 214, "height": 191,
      "title": {"text": "(e)", "orient": "bottom", "anchor": "start", "frame": "bounds", "offset": 4, "fontSize": 11, "fontWeight": "bold", "font": "DejaVu Serif", "color": "#222"},
      "resolve": {"scale": {"color": "independent"}},
      "layer": [
        {"data": {"name": "e"}, "mark": {"type": "line", "strokeWidth": 1.2},
          "encoding": {
            "x": {"field": "flow", "type": "quantitative", "scale": {"domain": [0, 200], "reverse": true, "padding": 0, "nice": false}, "axis": {"values": [0, 50, 100, 150, 200], "tickCount": 30, "format": "d", "title": "Gas Flow (SCCM)", "labelOverlap": false}},
            "y": {"field": "ne", "type": "quantitative", "scale": {"domain": [2e17, 2e18], "padding": 0, "nice": false, "zero": false}, "axis": {"values": [2e17, 4e17, 6e17, 8e17, 1e18, 1.2e18, 1.4e18, 1.6e18, 1.8e18, 2e18], "tickCount": 30, "title": "Electron Density (m⁻³)", "titlePadding": 3, "labelOverlap": false, "labelExpr": "datum.value >= 1.99e18 ? '2x10¹⁸' : format(datum.value / 1e18, '.1f') + 'x10¹⁸'"}},
            "color": {"field": "gas", "type": "nominal", "scale": {"domain": ["He", "Ar"], "range": ["#9aa9f6", "#f49494"]}, "legend": null}}},
        {"data": {"name": "e"}, "transform": [{"filter": "isValid(datum.lo)"}], "mark": {"type": "rule", "strokeWidth": 1},
          "encoding": {
            "x": {"field": "flow", "type": "quantitative", "title": "Gas Flow (SCCM)"},
            "y": {"field": "lo", "type": "quantitative", "title": "Electron Density (m⁻³)"}, "y2": {"field": "hi"},
            "color": {"field": "gas", "type": "nominal", "scale": {"domain": ["He", "Ar"], "range": ["#9aa9f6", "#f49494"]}, "legend": null}}},
        {"data": {"name": "e"}, "transform": [{"filter": "isValid(datum.lo)"}, {"fold": ["lo", "hi"], "as": ["end", "bound"]}], "mark": {"type": "point", "shape": "stroke", "filled": false, "size": 25, "strokeWidth": 1, "opacity": 1},
          "encoding": {
            "x": {"field": "flow", "type": "quantitative", "title": "Gas Flow (SCCM)"},
            "y": {"field": "bound", "type": "quantitative", "title": "Electron Density (m⁻³)"},
            "color": {"field": "gas", "type": "nominal", "scale": {"domain": ["He", "Ar"], "range": ["#9aa9f6", "#f49494"]}, "legend": null}}},
        {"data": {"name": "e"}, "mark": {"type": "point", "filled": true, "size": 40, "opacity": 1},
          "encoding": {
            "x": {"field": "flow", "type": "quantitative", "title": "Gas Flow (SCCM)"},
            "y": {"field": "ne", "type": "quantitative", "title": "Electron Density (m⁻³)"},
            "color": {"field": "gas", "type": "nominal", "scale": {"domain": ["He", "Ar"], "range": ["#2b50f3", "#ec1c24"]}, "legend": null}}},
        {"data": {"name": "labels"}, "transform": [{"filter": "datum.panel == 'e' && datum.kind == 'gas'"}], "mark": {"type": "text", "fontSize": 17, "fontWeight": "bold"},
          "encoding": {
            "x": {"field": "x", "type": "quantitative", "title": "Gas Flow (SCCM)"}, "y": {"field": "y", "type": "quantitative", "title": "Electron Density (m⁻³)"}, "text": {"field": "text"},
            "color": {"field": "text", "type": "nominal", "scale": {"domain": ["He", "Ar"], "range": ["#3152ee", "#e8182a"]}, "legend": null}}},
        {"data": {"name": "labels"}, "transform": [{"filter": "datum.panel == 'e' && datum.kind == 'note'"}], "mark": {"type": "text", "fontSize": 10.5, "fontWeight": "bold", "align": "left", "color": "#111"},
          "encoding": {"x": {"field": "x", "type": "quantitative", "title": "Gas Flow (SCCM)"}, "y": {"field": "y", "type": "quantitative", "title": "Electron Density (m⁻³)"}, "text": {"field": "text"}}}
      ]
    },
    {
      "width": 231, "height": 191,
      "title": {"text": "(f)", "orient": "bottom", "anchor": "start", "frame": "bounds", "offset": 4, "fontSize": 11, "fontWeight": "bold", "font": "DejaVu Serif", "color": "#222"},
      "resolve": {"scale": {"color": "independent"}},
      "layer": [
        {"data": {"name": "f"}, "mark": {"type": "line", "strokeWidth": 2},
          "encoding": {
            "x": {"field": "energy", "type": "quantitative", "scale": {"domain": [0, 30], "nice": false}, "axis": {"values": [0, 5, 10, 15, 20, 25, 30], "tickCount": 30, "format": "d", "title": "Energy (eV)", "labelOverlap": false}},
            "y": {"field": "eedf", "type": "quantitative", "scale": {"type": "log", "domain": [1e12, 1e16], "nice": false}, "axis": {"values": [1e12, 1e13, 1e14, 1e15, 1e16], "tickCount": 30, "title": "EEDF (eV¹·⁵/m³)", "titlePadding": 0, "labelOverlap": false, "labelExpr": "datum.value >= 9e15 ? '10¹⁶' : datum.value >= 9e14 ? '10¹⁵' : datum.value >= 9e13 ? '10¹⁴' : datum.value >= 9e12 ? '10¹³' : '10¹²'"}},
            "color": {"field": "series", "type": "nominal", "scale": {"domain": ["Ar 150 SCCM", "Ar 50 SCCM", "Ar 10 SCCM", "He 150 SCCM", "He 50 SCCM", "He 10 SCCM"], "range": ["#3a0808", "#ee1414", "#f07c95", "#1f3fec", "#1f3fec", "#a8b0f3"]}, "legend": null}}},
        {"data": {"name": "arrow"}, "mark": {"type": "rule", "color": "#111", "strokeWidth": 1},
          "encoding": {"x": {"field": "x", "type": "quantitative", "title": "Energy (eV)"}, "y": {"field": "y", "type": "quantitative", "title": "EEDF (eV¹·⁵/m³)"}, "x2": {"field": "x2"}, "y2": {"field": "y2"}}},
        {"data": {"name": "arrow"}, "mark": {"type": "point", "shape": "triangle-up", "filled": true, "color": "#111", "size": 22, "angle": 238, "opacity": 1},
          "encoding": {"x": {"field": "x2", "type": "quantitative", "title": "Energy (eV)"}, "y": {"field": "y2", "type": "quantitative", "title": "EEDF (eV¹·⁵/m³)"}}},
        {"data": {"name": "labels"}, "transform": [{"filter": "datum.panel == 'f' && datum.kind == 'curve'"}], "mark": {"type": "text", "fontSize": 8, "fontWeight": "bold", "stroke": "white", "strokeWidth": 3, "strokeJoin": "round", "color": "white"},
          "encoding": {"x": {"field": "x", "type": "quantitative", "title": "Energy (eV)"}, "y": {"field": "y", "type": "quantitative", "title": "EEDF (eV¹·⁵/m³)"}, "text": {"field": "text"}}},
        {"data": {"name": "labels"}, "transform": [{"filter": "datum.panel == 'f' && datum.kind == 'curve'"}], "mark": {"type": "text", "fontSize": 8, "fontWeight": "bold", "color": "#111"},
          "encoding": {"x": {"field": "x", "type": "quantitative", "title": "Energy (eV)"}, "y": {"field": "y", "type": "quantitative", "title": "EEDF (eV¹·⁵/m³)"}, "text": {"field": "text"}}},
        {"data": {"name": "labels"}, "transform": [{"filter": "datum.panel == 'f' && datum.kind == 'gas'"}], "mark": {"type": "text", "fontSize": 17, "fontWeight": "bold"},
          "encoding": {
            "x": {"field": "x", "type": "quantitative", "title": "Energy (eV)"}, "y": {"field": "y", "type": "quantitative", "title": "EEDF (eV¹·⁵/m³)"}, "text": {"field": "text"},
            "color": {"field": "text", "type": "nominal", "scale": {"domain": ["He", "Ar"], "range": ["#3152ee", "#e8182a"]}, "legend": null}}},
        {"data": {"name": "labels"}, "transform": [{"filter": "datum.panel == 'f' && datum.kind == 'note'"}], "mark": {"type": "text", "fontSize": 10.5, "fontWeight": "bold", "align": "right", "color": "#111"},
          "encoding": {"x": {"field": "x", "type": "quantitative", "title": "Energy (eV)"}, "y": {"field": "y", "type": "quantitative", "title": "EEDF (eV¹·⁵/m³)"}, "text": {"field": "text"}}}
      ]
    }
  ],
  "columns": 3,
  "align": "each",
  "bounds": "full",
  "spacing": {"row": 5, "column": 1},
  "config": {
    "font": "Liberation Sans",
    "view": {"stroke": "#9b9b9b", "strokeWidth": 1},
    "axis": {
      "grid": false, "domain": false,
      "ticks": true, "tickSize": -4, "tickColor": "#777", "labelPadding": 7,
      "labelFontSize": 9.5, "labelColor": "#333", "labelFlush": false, "labelOverlap": false, "labelBound": false,
      "titleFontSize": 10, "titleFontWeight": "normal", "titleColor": "#333"
    }
  }
}
